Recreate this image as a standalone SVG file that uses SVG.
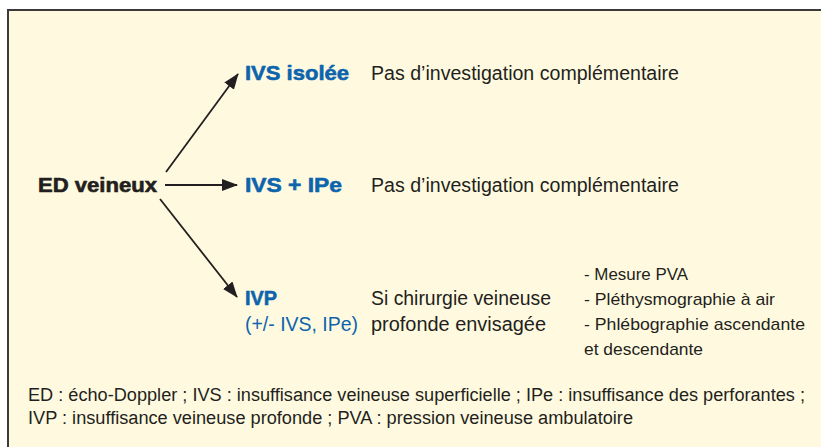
<svg xmlns="http://www.w3.org/2000/svg" width="821" height="447" viewBox="0 0 821 447">
<defs>
<style>
.t{font-family:"Liberation Sans",Arial,sans-serif;fill:#231f20}
.b{font-weight:bold;stroke:#231f20;stroke-width:0.6}
.blue{fill:#0d64ad}
.b.blue{stroke:#0d64ad}
.main{font-size:20px}
.list{font-size:17px}
.foot{font-size:18px}
.edge{stroke:#231f20;stroke-width:1.8;fill:none}
</style>
<marker id="ah" markerWidth="16" markerHeight="12" refX="15" refY="6" orient="auto" markerUnits="userSpaceOnUse">
<path d="M0,0 L16,6 L0,12 Z" fill="#231f20"/>
</marker>
</defs>
<rect x="0" y="0" width="821" height="447" fill="#ffffff"/>
<rect id="frame" x="8" y="10" width="840" height="460" fill="#fffadf" stroke="#3a3a3a" stroke-width="2"/>
<g id="connectors">
<line class="edge" x1="166" y1="172" x2="238" y2="74" marker-end="url(#ah)"/>
<line class="edge" x1="165" y1="185" x2="237" y2="185" marker-end="url(#ah)"/>
<line class="edge" x1="160" y1="199" x2="237" y2="297" marker-end="url(#ah)"/>
</g>
<g id="root">
<text class="t b" x="38" y="192" font-size="20" textLength="119" lengthAdjust="spacingAndGlyphs">ED veineux</text>
</g>
<g id="ivs-isolee">
<text class="t b blue" x="245" y="80" font-size="21" textLength="104" lengthAdjust="spacingAndGlyphs">IVS isolée</text>
<text class="t main" x="371" y="80" textLength="308" lengthAdjust="spacingAndGlyphs">Pas d’investigation complémentaire</text>
</g>
<g id="ivs-ipe">
<text class="t b blue" x="245" y="192" font-size="21" textLength="97" lengthAdjust="spacingAndGlyphs">IVS + IPe</text>
<text class="t main" x="371" y="192" textLength="308" lengthAdjust="spacingAndGlyphs">Pas d’investigation complémentaire</text>
</g>
<g id="ivp">
<text class="t b blue" x="245" y="305" font-size="21" textLength="32" lengthAdjust="spacingAndGlyphs">IVP</text>
<text class="t main blue" x="245" y="331" textLength="113" lengthAdjust="spacingAndGlyphs">(+/- IVS, IPe)</text>
<text class="t main" x="371" y="305" textLength="180" lengthAdjust="spacingAndGlyphs">Si chirurgie veineuse</text>
<text class="t main" x="371" y="331" textLength="175" lengthAdjust="spacingAndGlyphs">profonde envisagée</text>
</g>
<g id="examens">
<text class="t list" x="584" y="280" textLength="104" lengthAdjust="spacingAndGlyphs">- Mesure PVA</text>
<text class="t list" x="584" y="305" textLength="191" lengthAdjust="spacingAndGlyphs">- Pléthysmographie à air</text>
<text class="t list" x="584" y="330" textLength="221" lengthAdjust="spacingAndGlyphs">- Phlébographie ascendante</text>
<text class="t list" x="584" y="355" textLength="119" lengthAdjust="spacingAndGlyphs">et descendante</text>
</g>
<g id="legend">
<text class="t foot" x="28" y="401" textLength="777" lengthAdjust="spacingAndGlyphs">ED : écho-Doppler ; IVS : insuffisance veineuse superficielle ; IPe : insuffisance des perforantes ;</text>
<text class="t foot" x="28" y="424" textLength="605" lengthAdjust="spacingAndGlyphs">IVP : insuffisance veineuse profonde ; PVA : pression veineuse ambulatoire</text>
</g>
</svg>
